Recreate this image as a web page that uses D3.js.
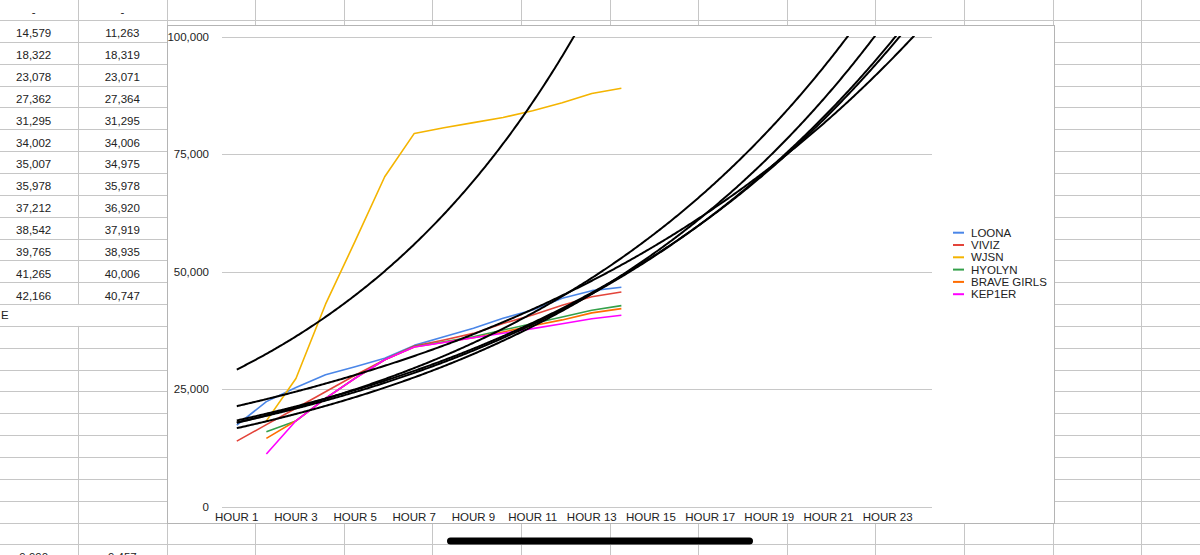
<!DOCTYPE html>
<html>
<head>
<meta charset="utf-8">
<script src="https://cdnjs.cloudflare.com/ajax/libs/d3/7.8.5/d3.min.js"></script>
<style>
  html, body { margin: 0; padding: 0; background: #fff; }
  svg { display: block; font-family: "Liberation Sans", Arial, Helvetica, sans-serif; }
</style>
</head>
<body>
<div id="chart"></div>
<script>
// categories
var hours = ["HOUR 1", "HOUR 2", "HOUR 3", "HOUR 4", "HOUR 5", "HOUR 6", "HOUR 7", "HOUR 8",
             "HOUR 9", "HOUR 10", "HOUR 11", "HOUR 12", "HOUR 13", "HOUR 14", "HOUR 15", "HOUR 16",
             "HOUR 17", "HOUR 18", "HOUR 19", "HOUR 20", "HOUR 21", "HOUR 22", "HOUR 23", "HOUR 24"];

// series values, hour 1 .. hour 14 (null = no value)
var loona      = [17400, 22400, 25400, 28100, 29830, 31600, 34350, 36200, 37980, 40100, 41870, 44360, 45980, 46700];
var viviz      = [14000, 17500, 21000, 24500, 28000, 31300, 34200, 35500, 36900, 39000, 40800, 42900, 44700, 45700];
var wjsn       = [null, 18300, 27300, 43100, 56500, 70200, 79400, 80600, 81700, 82800, 84200, 85900, 87900, 89000];
var hyolyn     = [null, 16000, 18300, 23100, 27400, 31300, 34100, 35100, 36200, 37600, 39000, 40400, 41800, 42800];
var braveGirls = [null, 14579, 18322, 23078, 27362, 31295, 34002, 35007, 35978, 37212, 38542, 39765, 41265, 42166];
var kep1er     = [null, 11263, 18319, 23071, 27364, 31295, 34006, 34975, 35978, 36920, 37919, 38935, 40006, 40747];

var seriesNames  = ["LOONA", "VIVIZ", "WJSN", "HYOLYN", "BRAVE GIRLS", "KEP1ER"];
var seriesValues = [loona, viviz, wjsn, hyolyn, braveGirls, kep1er];
var seriesColors = ["#4a86e8", "#e3443a", "#f4b400", "#34a04a", "#ff6d01", "#ff00ff"];

// axis ticks
var yTicks = [0, 25000, 50000, 75000, 100000];

var width = 1200, height = 555;
var gridColor = "#c6c6c6";
var textColor = "#222";
var fontSize = "11.5px";

var svg = d3.select("#chart").append("svg")
    .attr("width", width)
    .attr("height", height)
    .style("background", "#fff");

// ---- spreadsheet behind the chart ----
var colW = 88.6, col0 = -10.6;
var rowH = 21.85, row0 = 20;
var sheet = svg.append("g");

var colLines = d3.range(1, 15).map(function(k) { return col0 + k * colW; });
var rowLines = d3.range(-1, 26).map(function(k) { return row0 + k * rowH; });

sheet.selectAll("line.row")
  .data(rowLines)
  .enter().append("line")
    .attr("x1", 0).attr("x2", width)
    .attr("y1", function(d) { return Math.round(d) + 0.5; })
    .attr("y2", function(d) { return Math.round(d) + 0.5; })
    .style("stroke", gridColor);

sheet.selectAll("line.col")
  .data(colLines)
  .enter().append("line")
    .attr("x1", function(d) { return Math.round(d) + 0.5; })
    .attr("x2", function(d) { return Math.round(d) + 0.5; })
    .attr("y1", 0).attr("y2", height)
    .style("stroke", gridColor);

// the "E" row spans columns A and B
sheet.append("rect")
    .attr("x", col0 + colW - 2).attr("y", row0 + 13 * rowH + 1)
    .attr("width", 4).attr("height", rowH - 1)
    .style("fill", "#fff");

var fmt = d3.format(",");
var cellA = ["-"].concat(braveGirls.slice(1).map(fmt));
var cellB = ["-"].concat(kep1er.slice(1).map(fmt));

function cellY(i) { return row0 + i * rowH - 4.5; }

sheet.selectAll("text.a")
  .data(cellA)
  .enter().append("text")
    .text(function(d) { return d; })
    .attr("x", col0 + colW / 2)
    .attr("y", function(d, i) { return cellY(i); })
    .style("font-size", fontSize).style("fill", textColor)
    .style("text-anchor", "middle");

sheet.selectAll("text.b")
  .data(cellB)
  .enter().append("text")
    .text(function(d) { return d; })
    .attr("x", col0 + colW * 1.5)
    .attr("y", function(d, i) { return cellY(i); })
    .style("font-size", fontSize).style("fill", textColor)
    .style("text-anchor", "middle");

sheet.append("text").text("E")
    .attr("x", 1).attr("y", cellY(14) - 2)
    .style("font-size", fontSize).style("fill", textColor);

// cut-off row at the bottom
sheet.append("text").text("9,990")
    .attr("x", col0 + colW / 2).attr("y", 561)
    .style("font-size", fontSize).style("fill", textColor).style("text-anchor", "middle");
sheet.append("text").text("9,457")
    .attr("x", col0 + colW * 1.5).attr("y", 561)
    .style("font-size", fontSize).style("fill", textColor).style("text-anchor", "middle");

// ---- chart panel ----
var panel = { left: 167, top: 25, right: 1054, bottom: 523 };
svg.append("rect")
    .attr("x", panel.left + 0.5).attr("y", panel.top + 0.5)
    .attr("width", panel.right - panel.left).attr("height", panel.bottom - panel.top)
    .style("fill", "#fff").style("stroke", "#b4b4b4");

var x = d3.scalePoint().domain(hours).range([222, 932]).padding(0.5);
var y = d3.scaleLinear().domain([0, 100000]).range([507, 36.5]);

var chart = svg.append("g");

chart.selectAll("line.grid")
  .data(yTicks)
  .enter().append("line")
    .attr("x1", 222).attr("x2", 932)
    .attr("y1", function(d) { return Math.round(y(d)) + 0.5; })
    .attr("y2", function(d) { return Math.round(y(d)) + 0.5; })
    .style("stroke", "#c8c8c8");

chart.selectAll("text.ytick")
  .data(yTicks)
  .enter().append("text")
    .text(function(d) { return fmt(d); })
    .attr("x", 209)
    .attr("y", function(d) { return y(d); })
    .attr("dominant-baseline", "central")
    .style("font-size", fontSize).style("fill", textColor)
    .style("text-anchor", "end");

chart.selectAll("text.xtick")
  .data(hours.filter(function(d, i) { return i % 2 === 0; }))
  .enter().append("text")
    .text(function(d) { return d; })
    .attr("x", function(d) { return x(d); })
    .attr("y", 517)
    .attr("dominant-baseline", "central")
    .style("font-size", fontSize).style("fill", textColor)
    .style("text-anchor", "middle");

// series lines
var line = d3.line()
    .defined(function(d) { return d != null; })
    .x(function(d, i) { return x(hours[i]); })
    .y(function(d) { return y(d); });

chart.selectAll("path.series")
  .data(seriesValues)
  .enter().append("path")
    .attr("d", line)
    .style("fill", "none")
    .style("stroke", function(d, i) { return seriesColors[i]; })
    .style("stroke-width", 1.6)
    .style("stroke-linejoin", "round");

// exponential trendlines (least squares on ln y), like the sheet does
function expFit(vals) {
  var pts = [];
  vals.forEach(function(v, i) { if (v != null) pts.push([i + 1, Math.log(v)]); });
  var mx = d3.mean(pts, function(p) { return p[0]; });
  var my = d3.mean(pts, function(p) { return p[1]; });
  var sxy = d3.sum(pts, function(p) { return (p[0] - mx) * (p[1] - my); });
  var sxx = d3.sum(pts, function(p) { return (p[0] - mx) * (p[0] - mx); });
  var b = sxy / sxx, a = my - b * mx;
  return function(h) { return Math.exp(a + b * h); };
}

svg.append("clipPath").attr("id", "plotclip")
  .append("rect")
    .attr("x", 222).attr("y", y(100000) - 0.5)
    .attr("width", 710).attr("height", y(0) - y(100000) + 1);

var steps = d3.range(1, 24.001, 0.05);
var trendLine = d3.line()
    .x(function(d) { return x(hours[0]) + (d[0] - 1) * x.step(); })
    .y(function(d) { return y(d[1]); });

chart.append("g").attr("clip-path", "url(#plotclip)")
  .selectAll("path.trend")
  .data(seriesValues)
  .enter().append("path")
    .attr("d", function(vals) {
      var f = expFit(vals);
      return trendLine(steps.map(function(h) { return [h, Math.min(f(h), 200000)]; }));
    })
    .style("fill", "none")
    .style("stroke", "#000")
    .style("stroke-width", 2);

// legend
var legend = chart.selectAll("g.legend")
  .data(seriesNames)
  .enter().append("g")
    .attr("transform", function(d, i) { return "translate(953," + (232.7 + i * 12.3) + ")"; });

legend.append("line")
    .attr("x1", 0).attr("x2", 11).attr("y1", 0).attr("y2", 0)
    .style("stroke", function(d, i) { return seriesColors[i]; })
    .style("stroke-width", 2);

legend.append("text")
    .text(function(d) { return d; })
    .attr("x", 18).attr("y", 0)
    .attr("dominant-baseline", "central")
    .style("font-size", fontSize).style("fill", textColor);

// scroll bar of the sheet
svg.append("rect")
    .attr("x", 447).attr("y", 537.5)
    .attr("width", 306).attr("height", 7).attr("rx", 3.5)
    .style("fill", "#000");
</script>
</body>
</html>
